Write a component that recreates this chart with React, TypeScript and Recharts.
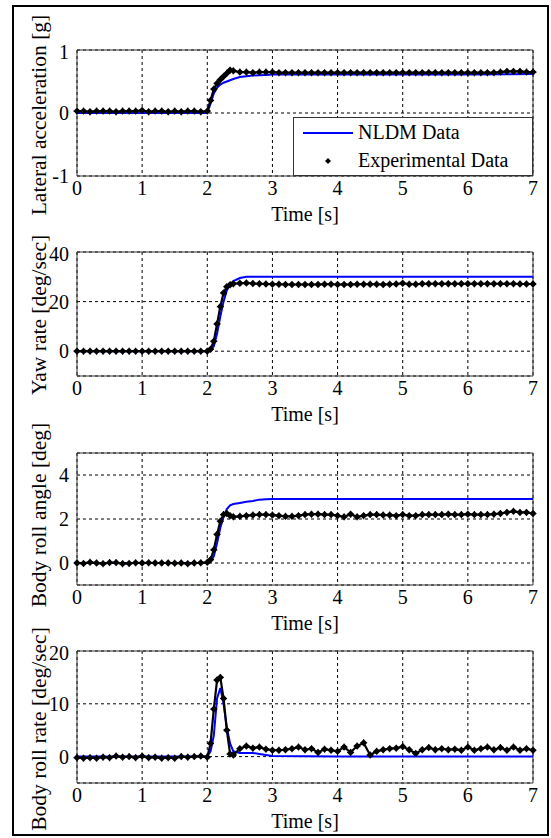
import React from 'react';
import { LineChart, Line, XAxis, YAxis, CartesianGrid, ReferenceArea } from 'recharts';

// time bases (s)
const expTime = [
  0, 0.1, 0.2, 0.3, 0.4, 0.5, 0.6, 0.7, 0.8, 0.9, 1.0, 1.1, 1.2, 1.3, 1.4, 1.5, 1.6, 1.7, 1.8, 1.9, 2.0,
  2.05, 2.1, 2.15, 2.2, 2.25, 2.3, 2.35, 2.4,
  2.5, 2.6, 2.7, 2.8, 2.9, 3.0, 3.1, 3.2, 3.3, 3.4,
  3.5, 3.6, 3.7, 3.8, 3.9, 4.0, 4.1, 4.2, 4.3, 4.4,
  4.5, 4.6, 4.7, 4.8, 4.9, 5.0, 5.1, 5.2, 5.3, 5.4,
  5.5, 5.6, 5.7, 5.8, 5.9, 6.0, 6.1, 6.2, 6.3, 6.4,
  6.5, 6.6, 6.7, 6.8, 6.9, 7.0,
];
const nldmTime = [0, 2.0, 2.05, 2.1, 2.15, 2.2, 2.25, 2.3, 2.35, 2.4, 2.5, 2.6, 2.7, 2.8, 2.9, 3.0, 4.0, 5.0, 6.0, 7.0];

// lateral acceleration [g]
const latNldm = [0, 0, 0.15, 0.31, 0.4, 0.45, 0.48, 0.5, 0.52, 0.54, 0.57, 0.585, 0.595, 0.6, 0.605, 0.61, 0.61, 0.61, 0.61, 0.62];
const latExp = [
  0.03, 0.03, 0.02, 0.03, 0.03, 0.03, 0.02, 0.03, 0.03, 0.03, 0.04, 0.02, 0.03, 0.03, 0.02, 0.03, 0.02, 0.03, 0.03, 0.02, 0.03,
  0.2, 0.38, 0.47, 0.53, 0.58, 0.63, 0.68, 0.67,
  0.65, 0.65, 0.64, 0.65, 0.65, 0.65, 0.64, 0.64, 0.64, 0.64,
  0.64, 0.64, 0.64, 0.64, 0.64, 0.64, 0.64, 0.64, 0.64, 0.64,
  0.64, 0.64, 0.64, 0.64, 0.64, 0.64, 0.64, 0.64, 0.64, 0.64,
  0.64, 0.64, 0.64, 0.64, 0.64, 0.64, 0.64, 0.64, 0.64, 0.64,
  0.65, 0.66, 0.66, 0.66, 0.65, 0.65,
];

// yaw rate [deg/sec]
const yawNldm = [0, 0, 0.3, 2, 7, 14, 20, 24.5, 27, 28.3, 29.5, 30, 30, 30, 30, 30, 30, 30, 30, 30];
const yawExp = [
  0, 0, 0, 0, 0, 0, 0, 0, 0, 0, 0, 0, 0, 0, 0, 0, 0, 0, 0, 0, 0,
  0.8, 4, 11, 18, 23.5, 26, 26.8, 27.2,
  27.4, 27.5, 27.3, 27.2, 27.1, 27.0, 27.0, 26.9, 26.9, 26.9,
  26.9, 26.9, 26.9, 27.0, 27.0, 26.9, 26.9, 26.9, 27.0, 27.0,
  27.0, 27.0, 26.9, 27.0, 27.1, 27.4, 27.0, 27.0, 27.2, 27.2,
  27.2, 27.2, 27.2, 27.2, 27.2, 27.2, 27.2, 27.2, 27.2, 27.2,
  27.2, 27.2, 27.2, 27.1, 27.1, 27.1,
];

// body roll angle [deg]
const rollAngNldm = [0, 0, 0.05, 0.3, 0.9, 1.6, 2.1, 2.45, 2.62, 2.68, 2.73, 2.78, 2.82, 2.88, 2.9, 2.91, 2.91, 2.91, 2.91, 2.91];
const rollAngExp = [
  0, -0.02, 0.03, 0, -0.03, 0.02, 0.02, -0.03, -0.02, 0.01, 0, 0.01, 0, 0, 0, -0.01, 0, -0.03, 0, 0.01, 0.03,
  0.15, 0.6, 1.3, 1.9, 2.2, 2.25, 2.15, 2.1,
  2.12, 2.15, 2.18, 2.2, 2.2, 2.18, 2.15, 2.12, 2.12, 2.15,
  2.2, 2.22, 2.22, 2.2, 2.2, 2.15, 2.1, 2.22, 2.1, 2.15,
  2.2, 2.2, 2.18, 2.18, 2.15, 2.2, 2.15, 2.15, 2.2, 2.2,
  2.2, 2.2, 2.22, 2.2, 2.2, 2.22, 2.2, 2.2, 2.2, 2.22,
  2.25, 2.3, 2.35, 2.3, 2.3, 2.25,
];

// body roll rate [deg/sec]
const rollRateNldm = [0, 0, 1, 4, 11, 13, 10, 5.5, 2.5, 1, 0.7, 0.7, 0.7, 0.5, 0.3, 0.1, 0, 0, 0, 0];
const rollRateExp = [
  -0.2, -0.3, -0.2, -0.3, -0.1, -0.2, 0.1, -0.1, 0, -0.2, 0.1, -0.2, -0.1, -0.3, -0.2, -0.3, 0, -0.1, 0, 0.1, -0.1,
  2.5, 9, 14.5, 15, 11, 5, 0.5, 0.3,
  1.5, 2.0, 1.6, 1.8, 1.4, 1.2, 1.2, 1.3, 1.5, 1.8,
  1.3, 1.5, 0.8, 1.4, 1.2, 1.0, 1.8, 0.8, 2.0, 2.6,
  0.3, 1.0, 1.3, 1.5, 1.6, 1.9, 1.3, 0.6, 1.3, 1.7,
  1.3, 1.5, 1.3, 1.4, 1.2, 1.8, 1.2, 1.5, 1.8, 1.3,
  1.7, 1.2, 1.8, 1.2, 1.5, 1.2,
];

const timeTicks = [0, 1, 2, 3, 4, 5, 6, 7];
const FONT = 'Liberation Serif, Times New Roman, serif';

const rows = (ts: number[], vs: number[]) => ts.map((t, i) => ({ t, v: vs[i] }));

const StarDot = (props: any) => {
  const { cx, cy, index } = props;
  if (cx == null || cy == null) return null;
  const r = 2.8;
  return (
    <path
      key={`d${index}`}
      d={`M${cx - r},${cy}L${cx},${cy - r}L${cx + r},${cy}L${cx},${cy + r}Z M${cx - 3.5},${cy}H${cx + 3.5}M${cx},${cy - 3.5}V${cy + 3.5}`}
      fill="#000"
      stroke="#000"
      strokeWidth={1.2}
    />
  );
};

interface PanelProps {
  top: number;
  bottom: number;
  domain: [number, number];
  ticks: number[];
  nldm: number[];
  exp: number[];
  label: string;
  labelY: number;
}

const Panel = ({ top, bottom, domain, ticks, nldm, exp, label, labelY }: PanelProps) => {
  const mTop = 10;
  const xAxisH = 48;
  const h = mTop + (bottom - top) + xAxisH + 6;
  return (
    <>
      <div style={{ position: 'absolute', left: 0, top: top - mTop }}>
        <LineChart width={551} height={h} margin={{ top: mTop, right: 18, bottom: 6, left: 32 }}>
          <CartesianGrid stroke="#000" strokeDasharray="3 3" strokeWidth={1} />
          <XAxis
            type="number"
            dataKey="t"
            domain={[0, 7]}
            ticks={timeTicks}
            height={xAxisH}
            axisLine={false}
            tickLine={false}
            tickSize={4}
            tickMargin={1}
            tick={{ fill: '#000', fontSize: 20, fontFamily: FONT }}
            label={{ value: 'Time [s]', position: 'insideBottom', offset: 3, fill: '#000', fontSize: 20, fontFamily: FONT }}
          />
          <YAxis
            type="number"
            domain={domain}
            ticks={ticks}
            width={45}
            axisLine={false}
            tickLine={false}
            tick={{ fill: '#000', fontSize: 20, fontFamily: FONT }}
          />
          <ReferenceArea x1={0} x2={7} y1={domain[0]} y2={domain[1]} fill="none" stroke="#333" strokeWidth={1} ifOverflow="visible" />
          <Line
            data={rows(nldmTime, nldm)}
            dataKey="v"
            type="linear"
            stroke="#0000ff"
            strokeWidth={2}
            dot={false}
            isAnimationActive={false}
          />
          <Line
            data={rows(expTime, exp)}
            dataKey="v"
            type="linear"
            stroke="#000"
            strokeWidth={2.2}
            dot={StarDot}
            isAnimationActive={false}
          />
        </LineChart>
      </div>
      <div
        style={{
          position: 'absolute',
          left: 39,
          top: labelY,
          transform: 'translate(-50%, -50%) rotate(-90deg)',
          whiteSpace: 'nowrap',
          fontFamily: FONT,
          fontSize: 21.5,
          color: '#000',
        }}
      >
        {label}
      </div>
    </>
  );
};

const LegendBox = () => (
  <div
    style={{
      position: 'absolute',
      left: 293,
      top: 117,
      width: 240,
      height: 59,
      boxSizing: 'border-box',
      border: '1px solid #333',
      background: '#fff',
      fontFamily: FONT,
      fontSize: 20,
      color: '#000',
    }}
  >
    <svg width={70} height={59} style={{ position: 'absolute', left: 0, top: 0 }}>
      <line x1={9} x2={59} y1={15} y2={15} stroke="#0000ff" strokeWidth={2} />
      <path d="M34,40L37,43L34,46L31,43Z" fill="#000" />
    </svg>
    <div style={{ position: 'absolute', left: 64, top: 2, lineHeight: '24px' }}>NLDM Data</div>
    <div style={{ position: 'absolute', left: 64, top: 30, lineHeight: '24px' }}>Experimental Data</div>
  </div>
);

export default function App() {
  return (
    <div style={{ position: 'absolute', left: 0, top: 0, width: 551, height: 838, background: '#fff' }}>
      <div
        style={{
          position: 'absolute',
          left: 12,
          top: 5,
          width: 537,
          height: 831,
          boxSizing: 'border-box',
          border: '2px solid #000',
        }}
      />
      <Panel top={50} bottom={176} domain={[-1, 1]} ticks={[-1, 0, 1]} nldm={latNldm} exp={latExp}
        label="Lateral acceleration [g]" labelY={115} />
      <Panel top={252} bottom={376} domain={[-10, 40]} ticks={[0, 20, 40]} nldm={yawNldm} exp={yawExp}
        label="Yaw rate [deg/sec]" labelY={315} />
      <Panel top={453} bottom={585} domain={[-1, 5]} ticks={[0, 2, 4]} nldm={rollAngNldm} exp={rollAngExp}
        label="Body roll angle [deg]" labelY={515} />
      <Panel top={651} bottom={783} domain={[-5, 20]} ticks={[0, 10, 20]} nldm={rollRateNldm} exp={rollRateExp}
        label="Body roll rate [deg/sec]" labelY={729} />
      <LegendBox />
    </div>
  );
}
